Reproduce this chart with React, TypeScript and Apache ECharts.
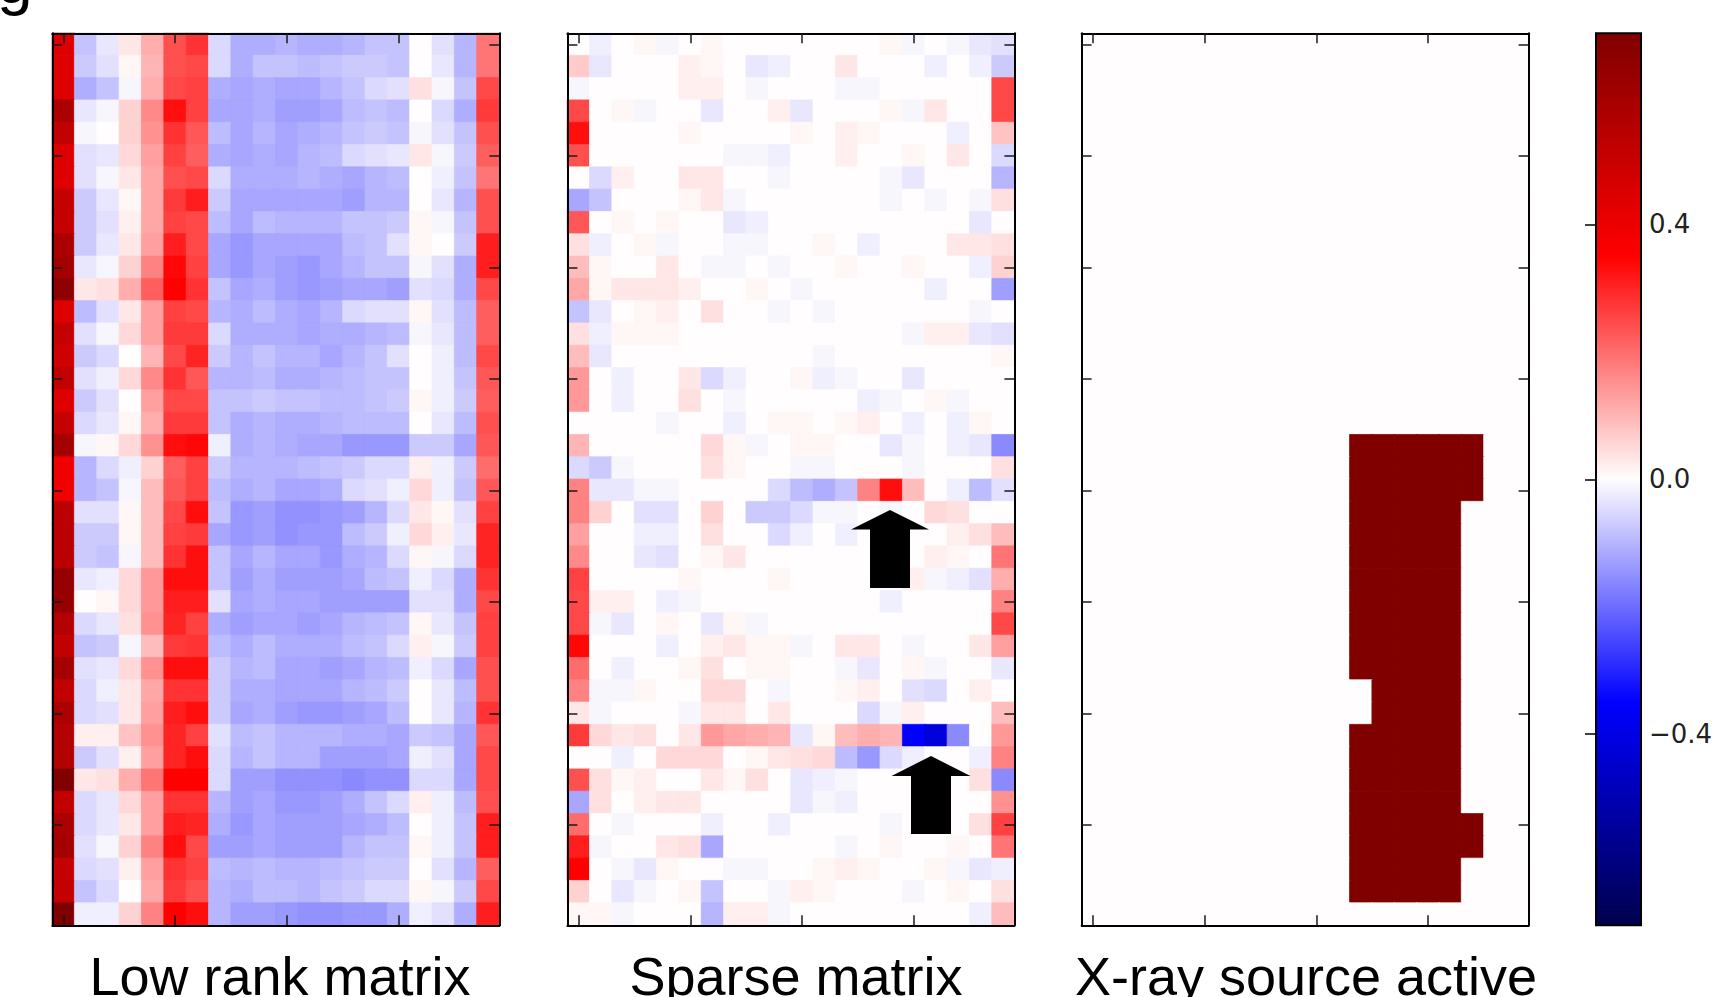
import React, { useEffect, useRef } from 'react';
import * as echarts from 'echarts';

// ---------- data ----------
const COLS: string[] = ['0','1','2','3','4','5','6','7','8','9','10','11','12','13','14','15','16','17','18','19'];
const ROWS: string[] = ['0','1','2','3','4','5','6','7','8','9','10','11','12','13','14','15','16','17','18','19',
  '20','21','22','23','24','25','26','27','28','29','30','31','32','33','34','35','36','37','38','39'];
const TICK_STEP = 5;
const CBAR_TICKS = [-0.4, 0, 0.4];
const V_MIN = -0.7;
const V_MAX = 0.7;
const TITLES = ['Low rank matrix', 'Sparse matrix', 'X-ray source active'];

// values in hundredths
const LOW_RANK: number[][] = [
  [44,-8,-3,3,11,24,28,-5,-11,-11,-10,-11,-11,-10,-8,-8,0,-4,-10,19],
  [44,-7,-4,1,10,24,25,-5,-11,-8,-8,-9,-8,-7,-7,-8,0,-3,-10,19],
  [44,-11,-8,-1,11,25,26,-11,-12,-11,-12,-12,-10,-8,-5,-4,4,-1,-8,25],
  [58,-3,-1,6,16,33,26,-12,-12,-11,-13,-13,-12,-9,-8,-9,0,-5,-11,27],
  [52,-1,0,6,15,28,23,-9,-12,-10,-12,-11,-10,-8,-7,-8,-1,-4,-8,24],
  [44,-4,-3,5,13,26,22,-11,-12,-11,-12,-10,-9,-5,-4,-3,3,-1,-7,22],
  [44,-4,-1,3,12,24,25,-5,-11,-11,-11,-10,-11,-12,-10,-9,0,-2,-8,19],
  [51,-7,-3,1,12,27,31,-7,-12,-12,-12,-12,-12,-13,-10,-10,0,-3,-10,24],
  [51,-7,-4,2,12,26,25,-9,-12,-9,-10,-10,-10,-8,-8,-7,1,-1,-8,24],
  [58,-7,-3,3,13,31,25,-12,-14,-12,-12,-12,-12,-9,-8,-4,1,0,-7,31],
  [60,-3,-1,6,17,34,26,-12,-14,-12,-13,-14,-12,-10,-8,-8,-1,-4,-11,31],
  [66,3,4,11,22,35,28,-8,-12,-11,-13,-14,-13,-12,-12,-13,-4,-5,-11,25],
  [44,-9,-4,3,13,26,25,-10,-11,-9,-11,-12,-10,-5,-4,-4,1,-4,-9,22],
  [51,-4,-1,5,13,27,27,-5,-11,-11,-11,-12,-11,-11,-10,-9,-1,-3,-9,22],
  [48,-7,-5,0,10,25,30,-7,-10,-8,-10,-10,-12,-10,-8,-4,0,-2,-9,25],
  [52,-4,-2,5,16,28,23,-10,-10,-9,-11,-11,-10,-9,-8,-8,0,-2,-8,23],
  [44,-7,-4,0,13,25,25,-8,-8,-7,-8,-8,-9,-9,-8,-7,1,-2,-7,22],
  [51,-5,-3,1,11,27,27,-8,-11,-10,-11,-11,-10,-9,-9,-9,0,-3,-9,24],
  [60,-1,1,5,15,33,34,-2,-11,-10,-11,-12,-12,-14,-14,-14,-7,-7,-12,23],
  [39,-10,-5,-2,6,22,26,-7,-10,-10,-10,-9,-8,-7,-5,-5,2,-2,-7,20],
  [39,-10,-8,-1,9,23,26,-9,-11,-10,-12,-12,-11,-5,-4,-2,5,-2,-8,23],
  [54,-4,-4,1,9,25,33,-8,-14,-13,-15,-15,-14,-13,-10,-5,3,1,-4,26],
  [54,-7,-7,1,9,26,27,-12,-14,-13,-15,-14,-14,-9,-7,-2,5,2,-3,30],
  [54,-7,-8,-1,9,28,33,-8,-12,-10,-12,-12,-14,-11,-10,-5,1,-1,-5,30],
  [64,-3,-2,5,14,33,33,-8,-13,-11,-13,-13,-13,-12,-9,-8,-2,-5,-11,28],
  [64,0,1,5,14,31,31,-4,-12,-11,-12,-12,-13,-13,-13,-13,-4,-4,-11,25],
  [56,-5,-3,4,15,30,26,-11,-13,-12,-12,-13,-12,-10,-9,-8,1,-3,-8,26],
  [52,-8,-7,-1,9,27,28,-9,-11,-9,-11,-11,-11,-9,-8,-5,2,-1,-7,26],
  [60,-4,-3,5,15,33,33,-7,-10,-9,-12,-12,-13,-12,-10,-9,-2,-5,-12,24],
  [52,-5,-2,3,12,28,28,-7,-11,-11,-12,-12,-12,-10,-9,-7,0,-3,-9,24],
  [58,-5,-4,3,13,31,33,-7,-12,-11,-13,-14,-14,-13,-12,-9,0,-3,-10,28],
  [56,2,2,8,15,30,26,-4,-9,-8,-10,-10,-10,-11,-11,-12,-7,-8,-12,23],
  [56,-7,-4,2,13,30,33,-5,-10,-8,-10,-10,-13,-13,-13,-12,-2,-4,-12,25],
  [70,3,4,11,19,35,35,-5,-13,-13,-15,-15,-15,-16,-15,-15,-5,-5,-12,25],
  [52,-5,-3,5,13,28,28,-10,-13,-12,-14,-14,-13,-11,-8,-5,2,-2,-9,24],
  [58,-5,-3,3,13,31,30,-11,-14,-12,-13,-13,-13,-12,-11,-9,0,-2,-8,31],
  [60,-4,-1,6,17,33,25,-13,-13,-12,-13,-13,-13,-10,-8,-8,1,-2,-8,31],
  [51,-5,-4,2,13,28,26,-9,-10,-9,-10,-10,-9,-8,-7,-7,0,-4,-10,22],
  [51,-8,-5,0,12,27,24,-10,-11,-9,-9,-10,-8,-7,-5,-5,1,-1,-7,25],
  [70,-2,-2,6,17,35,33,-10,-13,-13,-14,-15,-15,-14,-14,-11,-2,-4,-11,31],
];

const SPARSE: number[][] = [
  [0,-2,0,1,-1,0,1,0,0,0,0,0,0,0,1,-1,0,-1,-3,-4],
  [7,-3,0,0,0,2,1,0,-3,-2,0,0,3,0,0,0,-2,0,-2,-7],
  [-1,0,0,0,0,2,2,0,-1,0,0,0,-1,-1,0,0,0,0,0,25],
  [25,0,1,-1,0,0,-3,0,0,2,-3,0,0,0,1,-1,3,0,0,25],
  [33,0,0,0,0,1,0,0,0,0,1,0,2,1,0,0,0,-2,0,8],
  [24,0,0,0,0,0,0,-1,-1,-2,0,0,2,0,0,1,0,3,0,-5],
  [0,-5,2,0,0,3,3,0,0,-1,0,0,0,0,-1,-3,0,0,0,-10],
  [-12,-8,0,0,0,1,3,-1,0,0,0,0,0,0,-1,0,-1,0,-1,4],
  [23,0,1,0,1,0,0,-3,-2,0,0,0,0,0,0,0,0,0,-3,0],
  [4,-2,0,1,-1,0,0,-1,-1,0,0,1,0,-2,0,0,0,3,3,4],
  [9,1,0,0,3,0,-1,-1,0,-1,0,0,1,0,0,1,0,0,-2,6],
  [12,1,3,3,3,2,0,0,1,0,-1,0,0,0,0,0,-2,0,0,-13],
  [-8,-3,0,1,2,0,4,0,0,-1,0,-1,0,0,0,0,0,0,-1,0],
  [4,-2,1,1,1,0,0,0,0,0,0,0,0,0,0,-1,2,2,-3,-4],
  [9,-3,0,0,0,0,0,0,0,0,0,-1,0,0,0,0,0,0,0,1],
  [14,0,-2,0,0,3,-5,-2,0,0,1,-2,-1,0,0,-3,0,0,0,0],
  [14,0,-2,0,0,4,0,-1,0,0,0,0,0,-2,-1,0,1,-1,0,0],
  [0,0,0,0,-1,0,0,-2,0,1,1,0,1,2,0,-2,0,-2,1,0],
  [10,0,0,0,0,0,5,1,-1,0,1,1,0,0,-3,-1,0,-2,-3,-16],
  [-5,-7,-1,0,0,0,4,1,0,0,-1,-1,0,0,0,-1,0,0,0,4],
  [17,-3,-3,-1,-1,0,0,0,0,-5,-9,-11,-8,17,33,9,0,-2,-9,-4],
  [17,6,0,-4,-4,0,6,0,-7,-7,-5,-1,-1,0,-1,0,5,4,0,0],
  [13,0,0,-2,-2,0,4,0,0,-5,-2,0,-2,0,0,0,0,2,4,9],
  [16,0,0,-3,-4,0,1,3,0,0,0,0,0,0,0,0,2,1,0,19],
  [26,0,0,0,0,1,0,0,0,1,0,0,0,0,0,2,-1,-2,-4,11],
  [25,2,2,0,-2,-1,0,0,0,0,0,0,0,0,-2,0,0,0,0,17],
  [25,-1,-3,0,1,0,-3,1,-1,0,0,0,0,0,0,0,0,0,0,25],
  [34,0,0,0,-2,0,2,3,1,1,-1,0,3,3,0,-1,0,0,3,13],
  [20,0,-2,0,0,1,4,0,1,1,0,0,-1,-3,0,1,-1,0,0,-3],
  [17,-1,-1,1,0,0,5,5,0,-1,0,0,1,2,0,-4,-5,0,2,0],
  [3,-1,0,0,0,-1,3,3,0,3,0,0,0,-5,-1,2,0,0,0,9],
  [27,5,3,4,0,3,14,12,11,10,-3,1,9,11,10,-35,-42,-16,0,14],
  [0,0,-2,0,5,5,5,0,1,3,4,5,-9,-14,-5,-2,0,0,-2,17],
  [24,4,1,2,0,0,3,1,4,0,-3,-2,-1,0,0,0,0,0,4,-16],
  [-12,4,0,2,3,3,0,0,0,0,-3,-1,-2,0,0,0,0,0,0,15],
  [20,0,-1,0,0,0,-2,0,0,-2,0,0,0,0,-1,0,0,0,4,26],
  [31,-1,0,0,3,4,-12,0,0,0,0,0,-1,0,1,0,0,1,0,19],
  [35,0,-1,-3,1,0,0,-1,-1,0,0,1,2,1,0,0,1,-1,-3,-2],
  [6,0,-3,-1,0,1,-8,0,0,-1,2,1,0,0,0,-1,0,1,0,4],
  [1,1,-1,0,0,0,-10,2,2,-1,0,0,0,0,0,0,0,0,-2,9],
];

// X-ray source active mask (1 = active)
const XRAY: string[] = [
  '00000000000000000000','00000000000000000000','00000000000000000000','00000000000000000000',
  '00000000000000000000','00000000000000000000','00000000000000000000','00000000000000000000',
  '00000000000000000000','00000000000000000000','00000000000000000000','00000000000000000000',
  '00000000000000000000','00000000000000000000','00000000000000000000','00000000000000000000',
  '00000000000000000000','00000000000000000000',
  '00000000000011111100','00000000000011111100','00000000000011111100',
  '00000000000011111000','00000000000011111000','00000000000011111000','00000000000011111000',
  '00000000000011111000','00000000000011111000','00000000000011111000','00000000000011111000',
  '00000000000001111000','00000000000001111000',
  '00000000000011111000','00000000000011111000','00000000000011111000','00000000000011111000',
  '00000000000011111100','00000000000011111100',
  '00000000000011111000','00000000000011111000',
  '00000000000000000000',
];
const XRAY_ON = 0.7;

// ---------- layout ----------
const PANEL_LEFT = [52.3, 567.4, 1081.6];
const PANEL_TOP = 33.3;
const PANEL_W = 447;
const PANEL_H = 892;
const CBAR_LEFT = 1596;
const CBAR_W = 45;
const TITLE_X = [280, 796, 1306];
const TITLE_Y = 976;
const SEISMIC = ['#00004D', '#0000FF', '#FFFDFD', '#FF0000', '#800000'];

// border in the cell's own colour closes anti-aliasing seams between cells
function cell(x: number, y: number, v: number) {
  const t = Math.min(1, Math.max(0, (v - V_MIN) / (V_MAX - V_MIN)));
  const c = echarts.color.lerp(t, SEISMIC) as string;
  return { value: [x, y, v], itemStyle: { borderColor: c, borderWidth: 0.7 } };
}
function matCells(mat: number[][], scale: number) {
  const out: any[] = [];
  mat.forEach((row, y) => row.forEach((v, x) => out.push(cell(x, y, v * scale))));
  return out;
}
function maskCells(mask: string[], on: number) {
  const out: any[] = [];
  mask.forEach((row, y) => row.split('').forEach((c, x) => out.push(cell(x, y, c === '1' ? on : 0))));
  return out;
}

const tickStyle = { color: '#1a1a1a', width: 1.5 };
const lineStyle = { color: '#000', width: 2 };

function catAxis(gridIndex: number, position: string, data: string[], isY: boolean) {
  return {
    gridIndex,
    type: 'category',
    data,
    position,
    inverse: isY,
    boundaryGap: true,
    z: 10,
    axisLine: { show: true, onZero: false, lineStyle },
    axisTick: {
      show: true,
      inside: true,
      length: 10,
      alignWithLabel: true,
      interval: (i: number) => i % TICK_STEP === 0,
      lineStyle: tickStyle,
    },
    axisLabel: { show: false },
    splitLine: { show: false },
    splitArea: { show: false },
  };
}

function arrow(tipX: number, tipY: number, baseY: number, headHalf: number, shaftHalf: number, bottomY: number) {
  return {
    type: 'polygon',
    z: 100,
    shape: {
      points: [
        [tipX, tipY],
        [tipX + headHalf, baseY],
        [tipX + shaftHalf, baseY],
        [tipX + shaftHalf, bottomY],
        [tipX - shaftHalf, bottomY],
        [tipX - shaftHalf, baseY],
        [tipX - headHalf, baseY],
      ],
    },
    style: { fill: '#000' },
  };
}

export default function App() {
  const ref = useRef<HTMLDivElement>(null);
  useEffect(() => {
    if (!ref.current) return;
    const chart = echarts.init(ref.current, null, { renderer: 'svg' });

    const grids = PANEL_LEFT.map((l) => ({ left: l, top: PANEL_TOP, width: PANEL_W, height: PANEL_H }));
    grids.push({ left: CBAR_LEFT, top: PANEL_TOP, width: CBAR_W, height: PANEL_H });

    const xAxes: any[] = [];
    const yAxes: any[] = [];
    for (let g = 0; g < 3; g++) {
      xAxes.push(catAxis(g, 'bottom', COLS, false));
      xAxes.push(catAxis(g, 'top', COLS, false));
      yAxes.push(catAxis(g, 'left', ROWS, true));
      yAxes.push(catAxis(g, 'right', ROWS, true));
    }
    xAxes.push({ gridIndex: 3, type: 'value', min: 0, max: 1, show: false });
    yAxes.push({
      gridIndex: 3,
      type: 'value',
      min: V_MIN,
      max: V_MAX,
      position: 'right',
      z: 10,
      axisLine: { show: false },
      splitLine: { show: false },
      axisTick: { show: true, inside: true, length: 11, customValues: CBAR_TICKS, lineStyle: { color: '#000', width: 1.5 } },
      axisLabel: {
        show: true,
        customValues: CBAR_TICKS,
        margin: 8,
        fontFamily: 'DejaVu Sans',
        fontSize: 26,
        color: '#222',
        formatter: (v: number) => {
          const s = Math.abs(v).toFixed(1);
          return v < -1e-9 ? '\u2212' + s : s;
        },
      },
    });

    const datasets = [
      matCells(LOW_RANK, 0.01),
      matCells(SPARSE, 0.01),
      maskCells(XRAY, XRAY_ON),
    ];

    const series = datasets.map((d, g) => ({
      type: 'heatmap',
      xAxisIndex: 2 * g,
      yAxisIndex: 2 * g,
      data: d,
      progressive: 0,
      emphasis: { disabled: true },
    }));

    const graphics: any[] = [
      {
        type: 'rect',
        z: 1,
        shape: { x: CBAR_LEFT, y: PANEL_TOP, width: CBAR_W, height: PANEL_H },
        style: {
          fill: new echarts.graphic.LinearGradient(0, 0, 0, 1, [
            { offset: 0, color: SEISMIC[4] },
            { offset: 0.25, color: SEISMIC[3] },
            { offset: 0.5, color: SEISMIC[2] },
            { offset: 0.75, color: SEISMIC[1] },
            { offset: 1, color: SEISMIC[0] },
          ]),
          stroke: '#000',
          lineWidth: 2,
        },
      },
      arrow(890, 510, 529.5, 39, 20, 588),
      arrow(931, 756, 776, 39.5, 20, 834),
      {
        type: 'text',
        x: -3,
        y: -19,
        z: 100,
        style: {
          text: 'g',
          fontSize: 64,
          fontFamily: '"Liberation Sans", Arial, sans-serif',
          fill: '#000',
          textAlign: 'left',
          textVerticalAlign: 'middle',
        },
      },
      ...TITLES.map((t, i) => ({
        type: 'text',
        x: TITLE_X[i],
        y: TITLE_Y,
        z: 100,
        style: {
          text: t,
          fontSize: 54,
          fontFamily: '"Liberation Sans", Arial, sans-serif',
          fill: '#000',
          textAlign: 'center',
          textVerticalAlign: 'middle',
        },
      })),
    ];

    chart.setOption({
      animation: false,
      backgroundColor: '#ffffff',
      grid: grids,
      xAxis: xAxes,
      yAxis: yAxes,
      visualMap: {
        type: 'continuous',
        show: false,
        min: V_MIN,
        max: V_MAX,
        seriesIndex: [0, 1, 2],
        dimension: 2,
        inRange: { color: SEISMIC },
      },
      series,
      graphic: graphics,
    });

    return () => chart.dispose();
  }, []);

  return (
    <div
      ref={ref}
      style={{ position: 'absolute', left: 0, top: 0, width: 1730, height: 997 }}
    />
  );
}
